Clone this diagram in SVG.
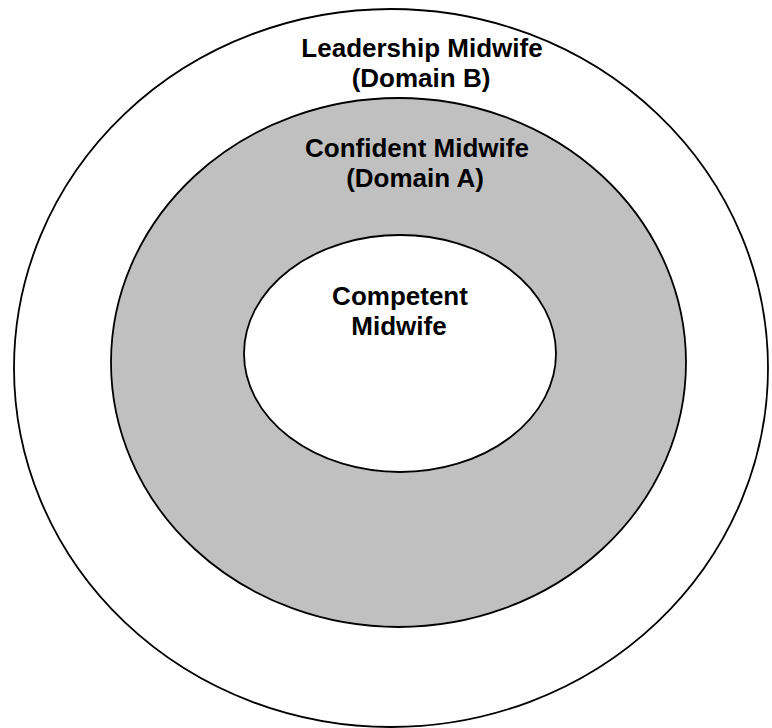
<svg xmlns="http://www.w3.org/2000/svg" width="772" height="728" viewBox="0 0 772 728">
  <style>
    .ring { stroke: #000; stroke-width: 1.8; }
    .label { font-family: "Liberation Sans", Arial, sans-serif; font-weight: bold; font-size: 26px; text-anchor: middle; fill: #000; }
  </style>
  <rect width="772" height="728" fill="#fff"/>
  <g id="leadership">
    <ellipse class="ring" cx="391" cy="368" rx="377" ry="359" fill="#fff"/>
    <text class="label" x="422" y="57">Leadership Midwife</text>
    <text class="label" x="421" y="87">(Domain B)</text>
  </g>
  <g id="confident">
    <ellipse class="ring" cx="398.5" cy="362.5" rx="287.5" ry="264.5" fill="#c0c0c0"/>
    <text class="label" x="417" y="157">Confident Midwife</text>
    <text class="label" x="415" y="187">(Domain A)</text>
  </g>
  <g id="competent">
    <ellipse class="ring" cx="400" cy="353.5" rx="156" ry="118.5" fill="#fff"/>
    <text class="label" x="400" y="305">Competent</text>
    <text class="label" x="399" y="335">Midwife</text>
  </g>
</svg>
